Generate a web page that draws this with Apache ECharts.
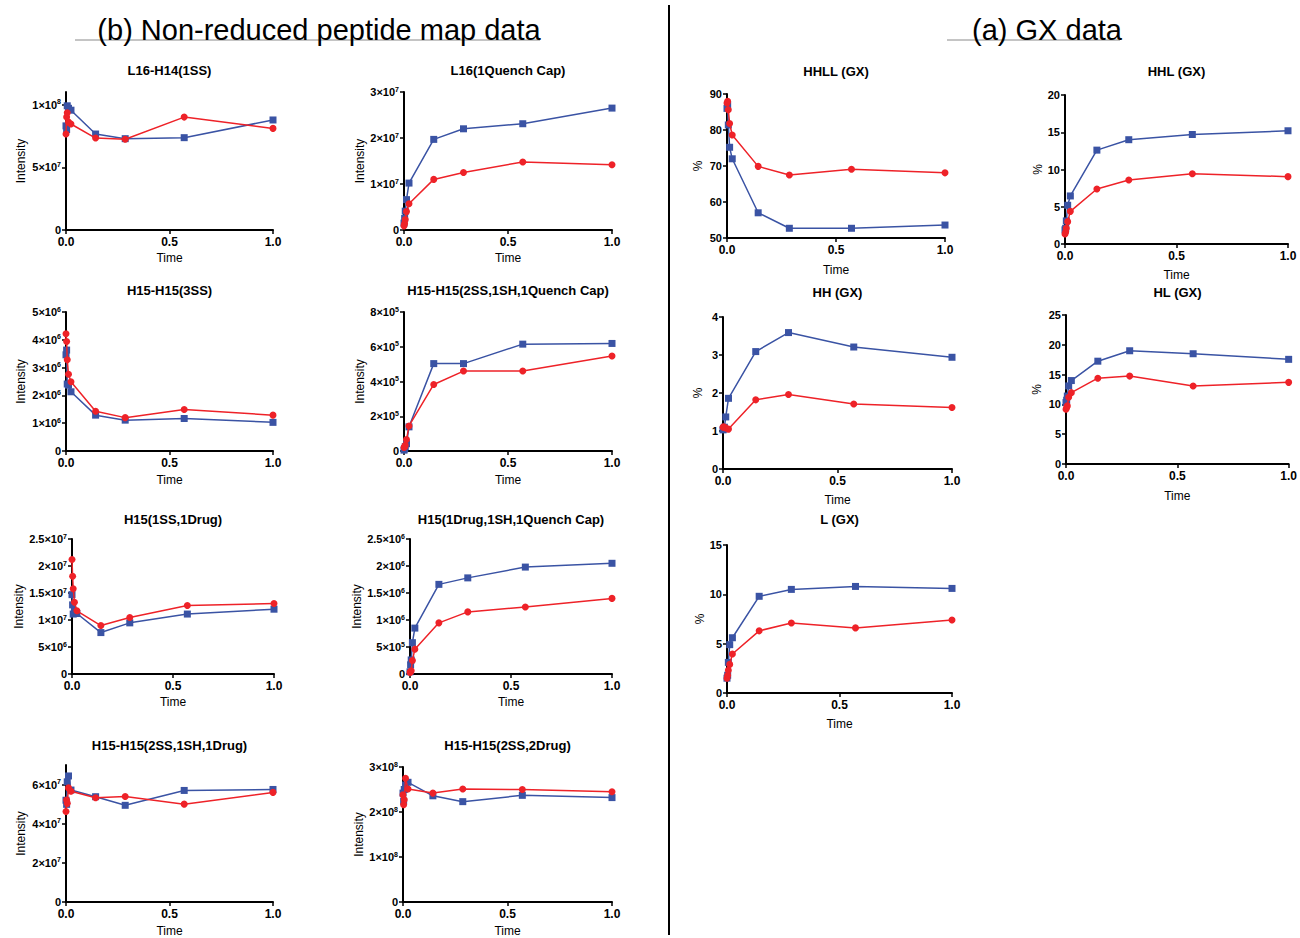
<!DOCTYPE html>
<html>
<head>
<meta charset="utf-8">
<script src="https://cdn.jsdelivr.net/npm/echarts@6/dist/echarts.min.js"></script>
<style>
html,body{margin:0;padding:0;background:#fff;}
#chart{width:1300px;height:938px;}
</style>
</head>
<body>
<div id="chart"></div>
<script>
// ---- Data ----
const TIME = [0, 0.003, 0.006, 0.012, 0.024, 0.143, 0.286, 0.571, 1.0];
const X_TICKS = [0, 0.5, 1.0];

// (b) Non-reduced peptide map data (blue squares, red circles)
const L16_H14_1SS_BLUE = [0.83e8, 0.80e8, 0.99e8, 0.97e8, 0.955e8, 0.765e8, 0.728e8, 0.736e8, 0.877e8];
const L16_H14_1SS_RED  = [0.765e8, 0.90e8, 0.935e8, 0.86e8, 0.845e8, 0.733e8, 0.723e8, 0.90e8, 0.81e8];
const L16_QC_BLUE = [0.15e7, 0.25e7, 0.41e7, 0.66e7, 1.02e7, 1.97e7, 2.2e7, 2.31e7, 2.65e7];
const L16_QC_RED  = [0.09e7, 0.14e7, 0.23e7, 0.40e7, 0.57e7, 1.10e7, 1.25e7, 1.48e7, 1.42e7];
const H15H15_3SS_BLUE = [3.46e6, 3.63e6, 2.41e6, 2.37e6, 2.13e6, 1.29e6, 1.11e6, 1.17e6, 1.03e6];
const H15H15_3SS_RED  = [4.22e6, 3.94e6, 3.28e6, 2.76e6, 2.49e6, 1.43e6, 1.20e6, 1.49e6, 1.29e6];
const H15H15_2SS1SH1QC_BLUE = [0.05e5, 0.12e5, 0.25e5, 0.42e5, 1.39e5, 5.03e5, 5.03e5, 6.15e5, 6.19e5];
const H15H15_2SS1SH1QC_RED  = [0.2e5, 0.25e5, 0.33e5, 0.66e5, 1.44e5, 3.83e5, 4.6e5, 4.6e5, 5.47e5];
const H15_1SS1DRUG_BLUE = [1.47e7, 1.28e7, 1.11e7, 1.16e7, 1.12e7, 0.767e7, 0.947e7, 1.11e7, 1.20e7];
const H15_1SS1DRUG_RED  = [2.12e7, 1.81e7, 1.58e7, 1.33e7, 1.17e7, 0.897e7, 1.046e7, 1.27e7, 1.306e7];
const H15_1DRUG1SH1QC_BLUE = [0.04e6, 0.17e6, 0.26e6, 0.58e6, 0.85e6, 1.66e6, 1.78e6, 1.98e6, 2.05e6];
const H15_1DRUG1SH1QC_RED  = [0.03e6, 0.04e6, 0.06e6, 0.25e6, 0.46e6, 0.947e6, 1.15e6, 1.24e6, 1.40e6];
const H15H15_2SS1SH1DRUG_BLUE = [5.2e7, 4.99e7, 6.14e7, 6.44e7, 5.72e7, 5.38e7, 4.94e7, 5.70e7, 5.75e7];
const H15H15_2SS1SH1DRUG_RED  = [4.62e7, 5.21e7, 5.04e7, 5.83e7, 5.66e7, 5.33e7, 5.39e7, 5.0e7, 5.6e7];
const H15H15_2SS2DRUG_BLUE = [2.42e8, 2.24e8, 2.5e8, 2.6e8, 2.66e8, 2.36e8, 2.23e8, 2.37e8, 2.32e8];
const H15H15_2SS2DRUG_RED  = [2.38e8, 2.16e8, 2.27e8, 2.75e8, 2.51e8, 2.42e8, 2.51e8, 2.5e8, 2.45e8];

// (a) GX data
const HHLL_BLUE = [86.0, 87.0, 81.4, 75.2, 72.0, 57.0, 52.7, 52.7, 53.6];
const HHLL_RED  = [87.5, 88.0, 85.6, 81.8, 78.6, 69.9, 67.5, 69.1, 68.1];
const HHL_BLUE = [1.9, 2.1, 3.1, 5.2, 6.45, 12.6, 14.0, 14.7, 15.2];
const HHL_RED  = [1.35, 1.6, 2.1, 3.0, 4.38, 7.38, 8.59, 9.44, 9.04];
const HH_BLUE = [1.03, 1.05, 1.1, 1.37, 1.86, 3.09, 3.59, 3.21, 2.94];
const HH_RED  = [1.1, 1.11, 1.1, 1.08, 1.05, 1.82, 1.96, 1.71, 1.62];
const HL_BLUE = [10.3, 10.7, 11.4, 13.1, 14.0, 17.25, 19.0, 18.5, 17.56];
const HL_RED  = [9.2, 9.5, 9.75, 11.2, 11.97, 14.4, 14.75, 13.1, 13.7];
const L_BLUE = [1.5, 1.8, 3.1, 4.9, 5.6, 9.8, 10.5, 10.8, 10.6];
const L_RED  = [1.5, 1.8, 2.3, 2.9, 3.95, 6.3, 7.1, 6.6, 7.4];

// Y tick labels
const YT_L16_H14_1SS = [0, 5e7, 1e8];
const YT_L16_QC = [0, 1e7, 2e7, 3e7];
const YT_H15H15_3SS = [0, 1e6, 2e6, 3e6, 4e6, 5e6];
const YT_H15H15_2SS1SH1QC = [0, 2e5, 4e5, 6e5, 8e5];
const YT_H15_1SS1DRUG = [0, 5e6, 1e7, 1.5e7, 2e7, 2.5e7];
const YT_H15_1DRUG1SH1QC = [0, 5e5, 1e6, 1.5e6, 2e6, 2.5e6];
const YT_H15H15_2SS1SH1DRUG = [0, 2e7, 4e7, 6e7];
const YT_H15H15_2SS2DRUG = [0, 1e8, 2e8, 3e8];
const YT_HHLL = [50, 60, 70, 80, 90];
const YT_HHL = [0, 5, 10, 15, 20];
const YT_HH = [0, 1, 2, 3, 4];
const YT_HL = [0, 5, 10, 15, 20, 25];
const YT_L = [0, 5, 10, 15];

// ---- Layout ----
const FONT = '"Liberation Sans", Arial, Helvetica, sans-serif';
const BLUE = '#3A53A4';
const RED = '#EE2228';

const PANELS = [
  {title:'L16-H14(1SS)', b:L16_H14_1SS_BLUE, r:L16_H14_1SS_RED, ticks:YT_L16_H14_1SS, min:0, max:1.1e8, g:[66,92,207,138], yName:'Intensity', yGap:39, xGap:22, sci:true, ty:70},
  {title:'L16(1Quench Cap)', b:L16_QC_BLUE, r:L16_QC_RED, ticks:YT_L16_QC, min:0, max:3e7, g:[404,92,208,138], yName:'Intensity', yGap:38.5, xGap:22, sci:true, ty:70},
  {title:'H15-H15(3SS)', b:H15H15_3SS_BLUE, r:H15H15_3SS_RED, ticks:YT_H15H15_3SS, min:0, max:5e6, g:[66,312,207,139], yName:'Intensity', yGap:39, xGap:23, sci:true, ty:290},
  {title:'H15-H15(2SS,1SH,1Quench Cap)', b:H15H15_2SS1SH1QC_BLUE, r:H15H15_2SS1SH1QC_RED, ticks:YT_H15H15_2SS1SH1QC, min:0, max:8e5, g:[404,312,208,139], yName:'Intensity', yGap:38.5, xGap:23, sci:true, ty:290},
  {title:'H15(1SS,1Drug)', b:H15_1SS1DRUG_BLUE, r:H15_1SS1DRUG_RED, ticks:YT_H15_1SS1DRUG, min:0, max:2.5e7, g:[72,539,202,135], yName:'Intensity', yGap:45, xGap:22, sci:true, ty:519},
  {title:'H15(1Drug,1SH,1Quench Cap)', b:H15_1DRUG1SH1QC_BLUE, r:H15_1DRUG1SH1QC_RED, ticks:YT_H15_1DRUG1SH1QC, min:0, max:2.5e6, g:[410,539,202,135], yName:'Intensity', yGap:44.5, xGap:22, sci:true, ty:519},
  {title:'H15-H15(2SS,1SH,1Drug)', b:H15H15_2SS1SH1DRUG_BLUE, r:H15H15_2SS1SH1DRUG_RED, ticks:YT_H15H15_2SS1SH1DRUG, min:0, max:7e7, g:[66,765,207,139], yName:'Intensity', yGap:39, xGap:23, sci:true, ty:745},
  {title:'H15-H15(2SS,2Drug)', b:H15H15_2SS2DRUG_BLUE, r:H15H15_2SS2DRUG_RED, ticks:YT_H15H15_2SS2DRUG, min:0, max:3e8, g:[403,767,209,137], yName:'Intensity', yGap:37.5, xGap:23, sci:true, ty:745},
  {title:'HHLL (GX)', b:HHLL_BLUE, r:HHLL_RED, ticks:YT_HHLL, min:50, max:90, g:[727,94,218,144], yName:'%', yGap:23, xGap:26, sci:false, ty:71},
  {title:'HHL (GX)', b:HHL_BLUE, r:HHL_RED, ticks:YT_HHL, min:0, max:20, g:[1065,95,223,149], yName:'%', yGap:21, xGap:25, sci:false, ty:71},
  {title:'HH (GX)', b:HH_BLUE, r:HH_RED, ticks:YT_HH, min:0, max:4, g:[723,317,229,152], yName:'%', yGap:19, xGap:25, sci:false, ty:292},
  {title:'HL (GX)', b:HL_BLUE, r:HL_RED, ticks:YT_HL, min:0, max:25, g:[1066,315,223,149], yName:'%', yGap:23.5, xGap:26, sci:false, ty:292},
  {title:'L (GX)', b:L_BLUE, r:L_RED, ticks:YT_L, min:0, max:15, g:[727,545,225,148], yName:'%', yGap:21.5, xGap:25, sci:false, ty:519}
];

function sciLabel(v){
  if (v === 0) return '{m|0}';
  const e = Math.floor(Math.log10(Math.abs(v)) + 1e-9);
  const m = +(v / Math.pow(10, e)).toFixed(2);
  return '{m|' + m + '×10}{e|' + e + '}';
}

const grids = [], xAxes = [], yAxes = [], series = [], graphics = [];
PANELS.forEach((p, i) => {
  grids.push({left:p.g[0], top:p.g[1], width:p.g[2], height:p.g[3], containLabel:false});
  xAxes.push({
    type:'value', gridIndex:i, min:0, max:1, interval:0.5,
    name:'Time', nameLocation:'middle', nameGap:p.xGap,
    nameTextStyle:{fontFamily:FONT, fontSize:12, color:'#000'},
    axisLine:{show:true, onZero:false, lineStyle:{color:'#000', width:2}},
    axisTick:{show:true, length:4, lineStyle:{color:'#000', width:1.5}},
    axisLabel:{fontFamily:FONT, fontSize:12, fontWeight:'bold', color:'#000', margin:6,
      formatter: v => v.toFixed(1)},
    splitLine:{show:false}
  });
  yAxes.push({
    type:'value', gridIndex:i, min:p.min, max:p.max,
    name:p.yName, nameLocation:'middle', nameGap:p.yGap, nameRotate:90,
    nameTextStyle:{fontFamily:FONT, fontSize:12, color:'#000'},
    axisLine:{show:true, onZero:false, lineStyle:{color:'#000', width:2}},
    axisTick:{show:true, length:4, customValues:p.ticks, lineStyle:{color:'#000', width:1.5}},
    axisLabel:{customValues:p.ticks, fontFamily:FONT, fontSize:11, fontWeight:'bold', color:'#000', margin:5,
      formatter: p.sci ? sciLabel : (v => '{m|' + v + '}'),
      rich:{
        m:{fontFamily:FONT, fontSize:11, fontWeight:'bold', color:'#000', lineHeight:13},
        e:{fontFamily:FONT, fontSize:7, fontWeight:'bold', color:'#000', lineHeight:7, verticalAlign:'top'}
      }},
    splitLine:{show:false}
  });
  series.push({
    type:'line', xAxisIndex:i, yAxisIndex:i, data:TIME.map((t,k)=>[t,p.b[k]]),
    symbol:'rect', symbolSize:7, color:BLUE, lineStyle:{color:BLUE, width:1.5},
    itemStyle:{color:BLUE}, animation:false, z:2
  });
  series.push({
    type:'line', xAxisIndex:i, yAxisIndex:i, data:TIME.map((t,k)=>[t,p.r[k]]),
    symbol:'circle', symbolSize:7, color:RED, lineStyle:{color:RED, width:1.5},
    itemStyle:{color:RED}, animation:false, z:3
  });
  graphics.push({type:'text', x:p.g[0] + p.g[2]/2, y:p.ty,
    style:{text:p.title, font:'bold 13px ' + FONT, fill:'#000', textAlign:'center', textVerticalAlign:'middle'}});
});

graphics.push({type:'line', shape:{x1:75, y1:40, x2:540, y2:40}, style:{stroke:'#8a8a8a', lineWidth:1}});
graphics.push({type:'line', shape:{x1:947, y1:40, x2:1120, y2:40}, style:{stroke:'#8a8a8a', lineWidth:1}});
graphics.push({type:'text', x:319, y:30,
  style:{text:'(b) Non-reduced peptide map data', font:'29px ' + FONT, fill:'#000', textAlign:'center', textVerticalAlign:'middle'}});
graphics.push({type:'text', x:1047, y:30,
  style:{text:'(a) GX data', font:'29px ' + FONT, fill:'#000', textAlign:'center', textVerticalAlign:'middle'}});
graphics.push({type:'line', shape:{x1:669, y1:5, x2:669, y2:935}, style:{stroke:'#000', lineWidth:2}});

const chart = echarts.init(document.getElementById('chart'), null, {renderer:'svg'});
chart.setOption({
  animation:false,
  backgroundColor:'#fff',
  grid:grids, xAxis:xAxes, yAxis:yAxes, series:series,
  graphic:graphics
});
</script>
</body>
</html>
